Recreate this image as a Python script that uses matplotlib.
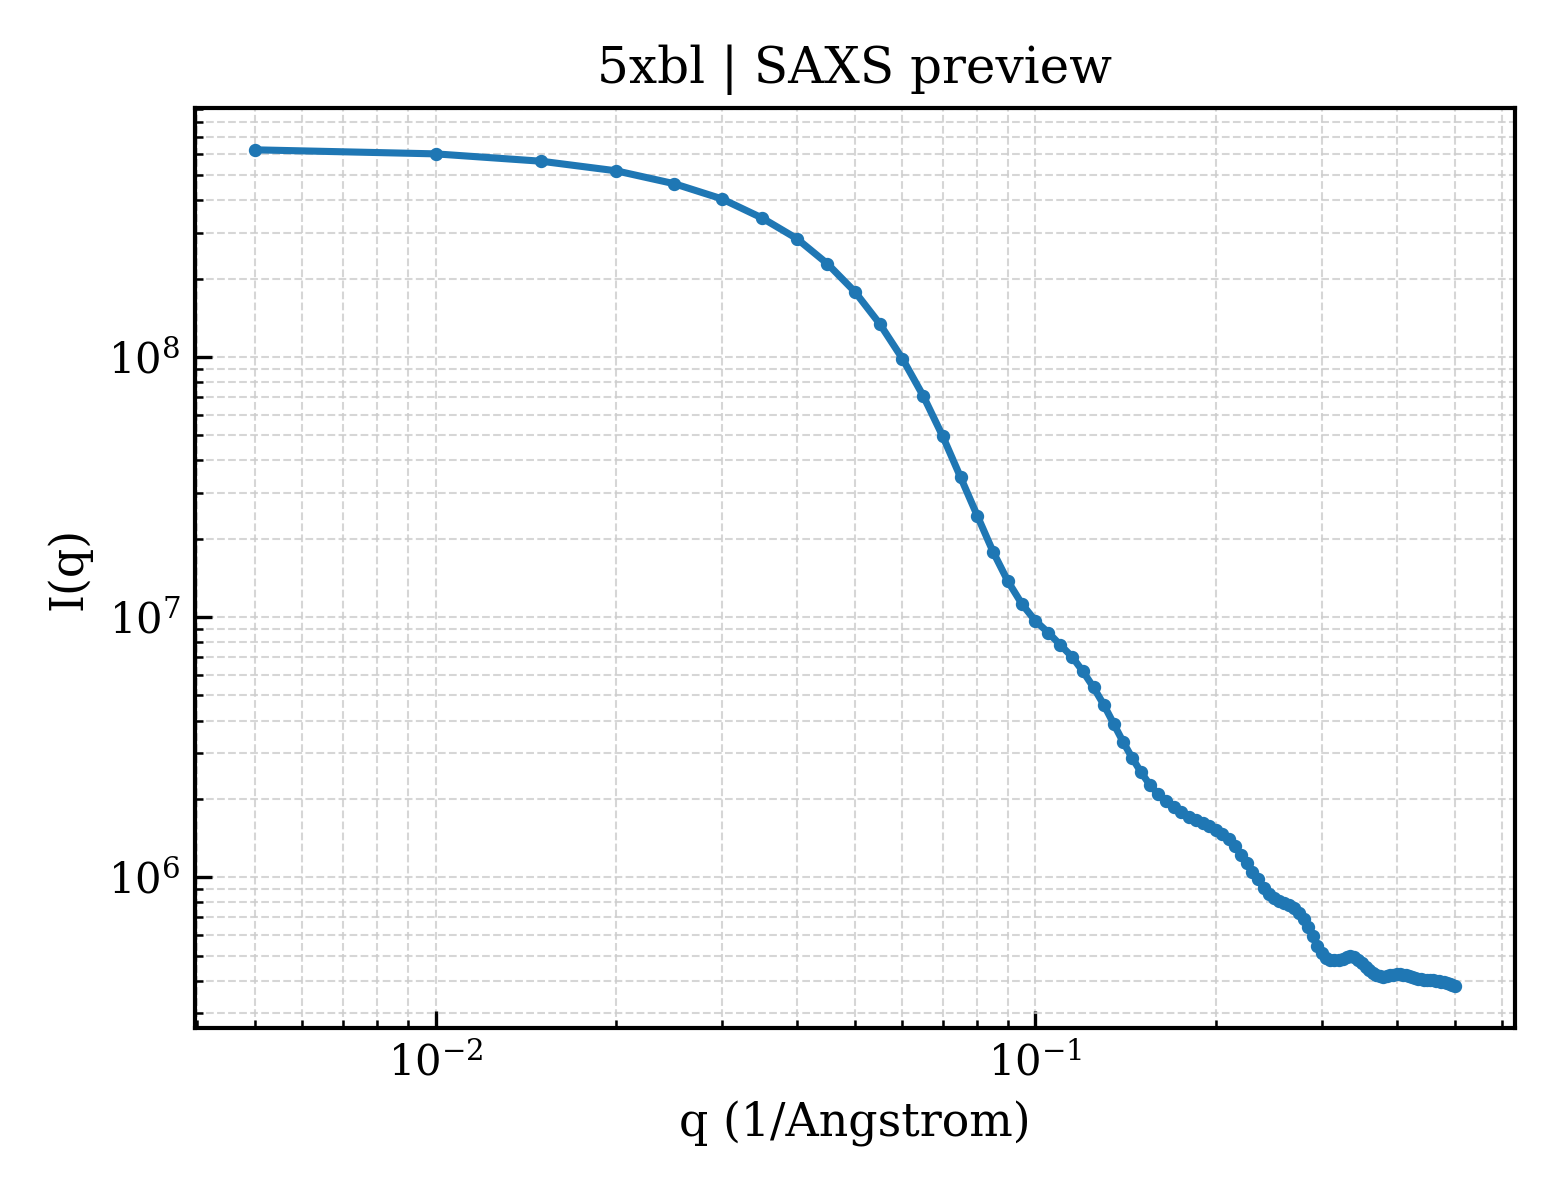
import numpy as np
import matplotlib
matplotlib.use("Agg")
import matplotlib.pyplot as plt

plt.rcParams["font.family"] = "DejaVu Serif"
plt.rcParams["mathtext.fontset"] = "dejavuserif"

# q grid (1/Angstrom) and intensities
q = np.round(np.arange(1, 101) * 0.005, 3)
intensity = [
    6.25e8, 6.03e8, 5.65e8, 5.19e8, 4.63e8, 4.05e8, 3.42e8, 2.85e8, 2.28e8, 1.78e8,
    1.34e8, 9.85e7, 7.08e7, 4.97e7, 3.45e7, 2.45e7, 1.78e7, 1.37e7, 1.12e7, 9.66e6,
    8.72e6, 7.81e6, 7.05e6, 6.18e6, 5.36e6, 4.60e6, 3.89e6, 3.31e6, 2.87e6, 2.53e6,
    2.27e6, 2.09e6, 1.96e6, 1.86e6, 1.78e6, 1.71e6, 1.66e6, 1.62e6, 1.57e6, 1.52e6,
    1.47e6, 1.40e6, 1.32e6, 1.22e6, 1.13e6, 1.05e6, 9.8e5, 9.1e5, 8.6e5, 8.3e5,
    8.1e5, 7.95e5, 7.8e5, 7.6e5, 7.3e5, 6.9e5, 6.45e5, 5.95e5, 5.45e5, 5.1e5,
    4.9e5, 4.82e5, 4.8e5, 4.82e5, 4.86e5, 4.93e5, 4.96e5, 4.92e5, 4.82e5, 4.68e5,
    4.53e5, 4.40e5, 4.29e5, 4.21e5, 4.16e5, 4.15e5, 4.17e5, 4.20e5, 4.22e5, 4.23e5,
    4.23e5, 4.22e5, 4.20e5, 4.17e5, 4.14e5, 4.10e5, 4.07e5, 4.05e5, 4.04e5, 4.03e5,
    4.02e5, 4.02e5, 4.00e5, 3.99e5, 3.97e5, 3.94e5, 3.91e5, 3.88e5, 3.85e5, 3.81e5,
]

title = "5xbl | SAXS preview"

fig, ax = plt.subplots(figsize=(5.2, 4.0), dpi=300)
fig.subplots_adjust(left=0.125, right=0.971, top=0.91, bottom=0.1433)

ax.plot(q, intensity, marker="o", markersize=2.2, linewidth=1.7, color="#1f77b4")
ax.set_xscale("log")
ax.set_yscale("log")

ax.set_xlabel("q (1/Angstrom)", fontsize=11)
ax.set_ylabel("I(q)", fontsize=11)
ax.set_title(title, fontsize=12)

ax.grid(True, which="both", linestyle="--", linewidth=0.5, color="#cccccc", alpha=0.8)
ax.tick_params(which="both", direction="in", labelsize=10)
ax.tick_params(which="major", length=4)
for s in ax.spines.values():
    s.set_linewidth(1.0)

plt.savefig("out.png", dpi=300)
